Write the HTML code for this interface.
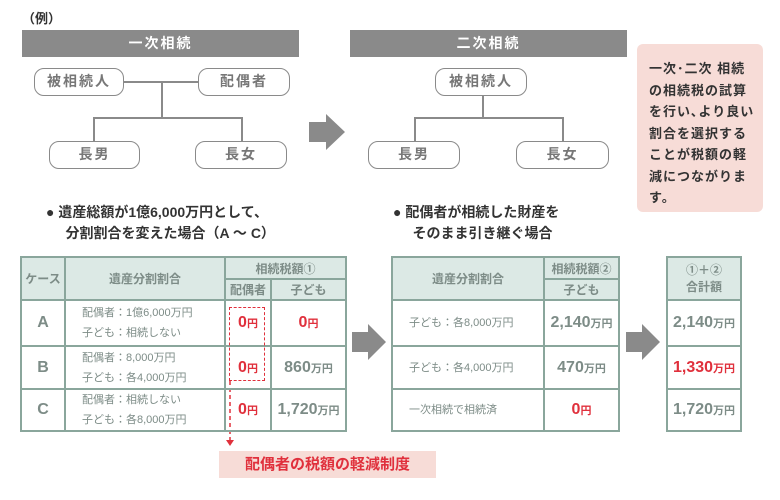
<!DOCTYPE html>
<html><head><meta charset="utf-8"><style>
*{margin:0;padding:0;box-sizing:border-box}
body{width:780px;height:500px;background:#fff;position:relative;overflow:hidden;font-family:"Liberation Sans","Noto Sans CJK JP",sans-serif;color:#444}
.a{position:absolute}
.bar{position:absolute;background:#8a8a8a;color:#fff;font-weight:bold;font-size:14px;text-align:center;line-height:27px;letter-spacing:2px}
.node{position:absolute;border:1.5px solid #8a8a8a;border-radius:10px;background:#fff;color:#777;font-weight:bold;font-size:14px;text-align:center;line-height:25px;letter-spacing:2px}
.ln{position:absolute;background:#8a8a8a}
.c{position:absolute;border:2px solid #8aa69c;display:flex;align-items:center;justify-content:center;color:#7d8c87;font-weight:bold;text-align:center}
.h{background:#dce9e5;font-size:12px}
.t{font-size:11px;font-weight:normal;justify-content:flex-start;padding-left:16px;line-height:20px;text-align:left}
.big{font-size:16px}
.r{color:#e0303c}
.y{font-size:11px}
</style></head><body>
<div class="a" style="left:22px;top:8px;font-size:13px;font-weight:bold;color:#333">（例）</div>
<div class="bar" style="left:22px;top:30px;width:277px;height:27px">一次相続</div>
<div class="bar" style="left:350px;top:30px;width:277px;height:27px">二次相続</div>

<div class="ln" style="left:124px;top:81px;width:74px;height:2px"></div>
<div class="ln" style="left:161px;top:82px;width:2px;height:36px"></div>
<div class="ln" style="left:93px;top:117px;width:150px;height:2px"></div>
<div class="ln" style="left:93px;top:117px;width:2px;height:25px"></div>
<div class="ln" style="left:241px;top:117px;width:2px;height:25px"></div>
<div class="node" style="left:34px;top:68px;width:90px;height:28px">被相続人</div>
<div class="node" style="left:198px;top:68px;width:92px;height:28px">配偶者</div>
<div class="node" style="left:49px;top:141px;width:91px;height:28px">長男</div>
<div class="node" style="left:195px;top:141px;width:92px;height:28px">長女</div>

<div class="ln" style="left:482px;top:96px;width:2px;height:22px"></div>
<div class="ln" style="left:414px;top:117px;width:150px;height:2px"></div>
<div class="ln" style="left:414px;top:117px;width:2px;height:25px"></div>
<div class="ln" style="left:562px;top:117px;width:2px;height:25px"></div>
<div class="node" style="left:435px;top:68px;width:92px;height:28px">被相続人</div>
<div class="node" style="left:368px;top:141px;width:92px;height:28px">長男</div>
<div class="node" style="left:516px;top:141px;width:93px;height:28px">長女</div>

<svg class="a" style="left:0;top:0" width="780" height="500">
<polygon points="309,122 326,122 326,114 345,132 326,150 326,142 309,142" fill="#8a8a8a"/>
<polygon points="352,332 368,332 368,324 386,342 368,360 368,352 352,352" fill="#8a8a8a"/>
<polygon points="626,332 642,332 642,324 660,342 642,360 642,352 626,352" fill="#8a8a8a"/>
<line x1="230" y1="381" x2="230" y2="440" stroke="#e0303c" stroke-width="1.5" stroke-dasharray="4,3"/>
<polygon points="226,440 234,440 230,446" fill="#e0303c"/>
</svg>

<div class="a" style="left:637px;top:44px;width:126px;height:168px;background:#f7dcd7;border-radius:6px;padding:14px 0 0 12px;font-size:13px;font-weight:bold;line-height:21.5px;color:#333;letter-spacing:1px;white-space:nowrap">一次･二次 相続<br>の相続税の試算<br>を行い､より良い<br>割合を選択する<br>ことが税額の軽<br>減につながりま<br>す。</div>

<div class="a" style="left:46px;top:202px;font-size:14px;font-weight:bold;line-height:21px;color:#333">● 遺産総額が1億6,000万円として、<br>&nbsp;&nbsp;&nbsp;&nbsp;&nbsp;分割割合を変えた場合（A ～ C）</div>
<div class="a" style="left:393px;top:202px;font-size:14px;font-weight:bold;line-height:21px;color:#333">● 配偶者が相続した財産を<br>&nbsp;&nbsp;&nbsp;&nbsp;&nbsp;そのまま引き継ぐ場合</div>

<!-- table 1 -->
<div class="c h" style="left:20px;top:256px;width:46px;height:45px">ケース</div>
<div class="c h" style="left:64px;top:256px;width:162px;height:45px">遺産分割割合</div>
<div class="c h" style="left:224px;top:256px;width:123px;height:24px">相続税額①</div>
<div class="c h" style="left:224px;top:278px;width:48px;height:23px">配偶者</div>
<div class="c h" style="left:270px;top:278px;width:77px;height:23px">子ども</div>
<div class="c big" style="left:20px;top:299px;width:46px;height:48px">A</div>
<div class="c t" style="left:64px;top:299px;width:162px;height:48px">配偶者：1億6,000万円<br>子ども：相続しない</div>
<div class="c big r" style="left:224px;top:299px;width:48px;height:48px">0<span class="y">円</span></div>
<div class="c big r" style="left:270px;top:299px;width:77px;height:48px">0<span class="y">円</span></div>
<div class="c big" style="left:20px;top:345px;width:46px;height:45px">B</div>
<div class="c t" style="left:64px;top:345px;width:162px;height:45px">配偶者：8,000万円<br>子ども：各4,000万円</div>
<div class="c big r" style="left:224px;top:345px;width:48px;height:45px">0<span class="y">円</span></div>
<div class="c big" style="left:270px;top:345px;width:77px;height:45px">860<span class="y">万円</span></div>
<div class="c big" style="left:20px;top:388px;width:46px;height:44px">C</div>
<div class="c t" style="left:64px;top:388px;width:162px;height:44px">配偶者：相続しない<br>子ども：各8,000万円</div>
<div class="c big r" style="left:224px;top:388px;width:48px;height:44px">0<span class="y">円</span></div>
<div class="c big" style="left:270px;top:388px;width:77px;height:44px">1,720<span class="y">万円</span></div>
<div class="a" style="left:229px;top:307px;width:36px;height:74px;border:1.5px dashed #e0303c"></div>

<!-- table 2 -->
<div class="c h" style="left:391px;top:256px;width:154px;height:45px">遺産分割割合</div>
<div class="c h" style="left:543px;top:256px;width:77px;height:24px">相続税額②</div>
<div class="c h" style="left:543px;top:278px;width:77px;height:23px">子ども</div>
<div class="c t" style="left:391px;top:299px;width:154px;height:48px">子ども：各8,000万円</div>
<div class="c big" style="left:543px;top:299px;width:77px;height:48px">2,140<span class="y">万円</span></div>
<div class="c t" style="left:391px;top:345px;width:154px;height:45px">子ども：各4,000万円</div>
<div class="c big" style="left:543px;top:345px;width:77px;height:45px">470<span class="y">万円</span></div>
<div class="c t" style="left:391px;top:388px;width:154px;height:44px">一次相続で相続済</div>
<div class="c big r" style="left:543px;top:388px;width:77px;height:44px">0<span class="y">円</span></div>

<!-- table 3 -->
<div class="c h" style="left:666px;top:256px;width:76px;height:45px;line-height:17px">①＋②<br>合計額</div>
<div class="c big" style="left:666px;top:299px;width:76px;height:48px">2,140<span class="y">万円</span></div>
<div class="c big r" style="left:666px;top:345px;width:76px;height:45px">1,330<span class="y">万円</span></div>
<div class="c big" style="left:666px;top:388px;width:76px;height:44px">1,720<span class="y">万円</span></div>

<div class="a" style="left:219px;top:451px;width:217px;height:27px;background:#f7dcd7;color:#e0303c;font-weight:bold;font-size:15px;text-align:center;line-height:27px">配偶者の税額の軽減制度</div>
</body></html>
